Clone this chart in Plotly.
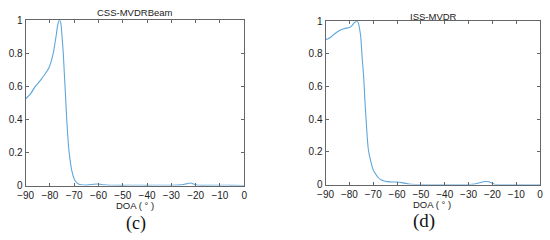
import plotly.graph_objects as go
from plotly.subplots import make_subplots

# CSS-MVDRBeam spectrum
css_doa = [-90, -88, -86, -84, -82, -80.5, -79.5, -78.5, -77.5, -76.8, -76.2, -75.6,
           -75.0, -74.5, -74.0, -73.5, -73.0, -72.5, -72.0, -71.0, -70.0, -69.0,
           -68.0, -66.0, -64, -62, -60, -58, -55, -50, -45, -40, -35, -30, -26,
           -24, -22, -20.5, -19, -15, -10, -5, 0]
css_pow = [0.525, 0.555, 0.60, 0.635, 0.675, 0.71, 0.75, 0.81, 0.90, 0.97, 1.0, 0.99,
           0.90, 0.80, 0.66, 0.52, 0.38, 0.27, 0.19, 0.09, 0.04, 0.018,
           0.008, 0.003, 0.004, 0.008, 0.009, 0.005, 0.002, 0.001, 0.002, 0.001, 0.002, 0.002, 0.004,
           0.01, 0.015, 0.008, 0.002, 0.001, 0.002, 0.001, 0.0]

# ISS-MVDR spectrum
iss_doa = [-90, -88, -86, -84, -82, -80, -79, -78, -77, -76.4, -75.8, -75.2,
           -74.6, -74.0, -73.5, -73.0, -72.5, -72.0, -71.0, -70.0, -69.0, -68.0,
           -67.0, -66, -64, -62, -60, -58, -56, -54, -50, -40, -30, -27.5, -25,
           -23, -21.5, -20, -19, -10, 0]
iss_pow = [0.885, 0.90, 0.925, 0.945, 0.955, 0.962, 0.972, 0.99, 1.0, 0.995, 0.96, 0.90,
           0.77, 0.66, 0.52, 0.40, 0.29, 0.21, 0.14, 0.09, 0.065, 0.045,
           0.032, 0.025, 0.018, 0.016, 0.016, 0.012, 0.006, 0.002, 0.0, 0.0, 0.0, 0.003, 0.013,
           0.019, 0.018, 0.008, 0.001, 0.0, 0.0]

x_ticks = [-90, -80, -70, -60, -50, -40, -30, -20, -10, 0]
y_ticks = [0, 0.2, 0.4, 0.6, 0.8, 1]

fig = make_subplots(rows=1, cols=2)
line = dict(color='#5ea6dc', width=1.1, shape='spline', smoothing=0.5)
fig.add_trace(go.Scatter(x=css_doa, y=css_pow, mode='lines', line=line), row=1, col=1)
fig.add_trace(go.Scatter(x=iss_doa, y=iss_pow, mode='lines', line=line), row=1, col=2)

axis_style = dict(
    showline=True, linecolor='#666', linewidth=1, mirror='ticks',
    ticks='inside', ticklen=3, tickcolor='#666',
    showgrid=False, zeroline=False,
    tickfont=dict(family='Liberation Sans', size=10, color='#222'),
)
fig.update_xaxes(range=[-90, 0], tickvals=x_ticks, **axis_style)
fig.update_yaxes(range=[0, 1], tickvals=y_ticks, **axis_style)

fig.update_layout(
    width=550, height=240,
    margin=dict(l=0, r=0, t=0, b=0),
    paper_bgcolor='white', plot_bgcolor='white',
    showlegend=False,
    xaxis=dict(domain=[18 / 550, 241 / 550]),
    xaxis2=dict(domain=[324 / 550, 543 / 550]),
    yaxis=dict(domain=[1 - 189 / 240, 1 - 15 / 240]),
    yaxis2=dict(domain=[1 - 188 / 240, 1 - 16 / 240]),
)

sans = dict(family='Liberation Sans', size=9.5, color='#222')
serif = dict(family='Liberation Serif', color='#111')
notes = [
    (130, 7, 'CSS-MVDRBeam', sans),
    (434, 11, 'ISS-MVDR', sans),
    (130, 210, 'DOA ( ° )', sans),
    (433, 209, 'DOA ( ° )', sans),
    (131, 229, '(c)', dict(serif, size=18)),
    (424, 226, '(d)', dict(serif, size=19)),
]
for x, y, text, font in notes:
    fig.add_annotation(x=x / 550, y=1 - y / 240, xref='paper', yref='paper',
                       text=text, showarrow=False, font=font,
                       xanchor='center', yanchor='middle')

fig.write_html("out.html", config={'displayModeBar': False},
               post_script="document.body.style.margin='0';")
